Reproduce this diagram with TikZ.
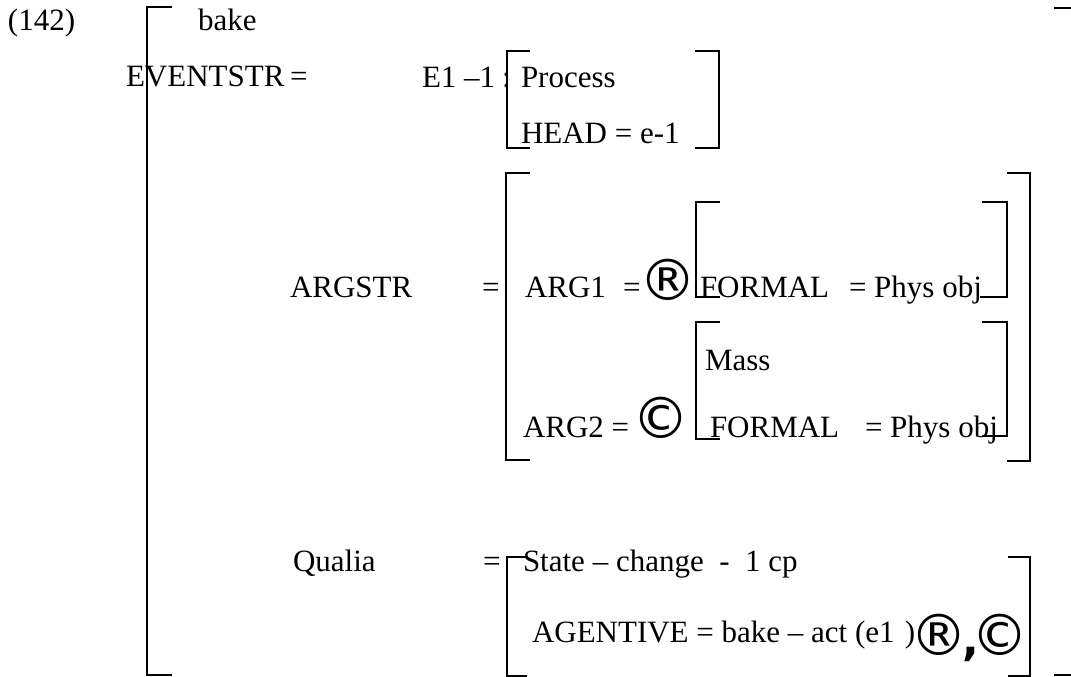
\documentclass[tikz,border=0pt]{standalone}
\usepackage{fontspec}
\setmainfont{Liberation Serif}
\newfontfamily\symfont{DejaVu Sans}
\newfontfamily\symfontb{DejaVu Sans Bold}
\begin{document}
\begin{tikzpicture}[x=1pt,y=-1pt,
  txt/.style={anchor=base west,inner sep=0pt,outer sep=0pt,font=\fontsize{31}{36}\selectfont},
  sym/.style={anchor=center,inner sep=0pt,font=\symfont\fontsize{57}{57}\selectfont},
  brk/.style={line width=2.3pt,line join=miter}]
\useasboundingbox (0,0) rectangle (1071,677);
% texts
\node[txt] (n142) at (8,31) {(142)};
\node[txt] (bake) at (198,31) {bake};
\node[txt] (evs) at (126,87) {EVENTSTR};
\node[txt] (evseq) at (290,87) {=};
\node[txt] (e11) at (422,88) {E1 –1};
\node[txt] (colon) at (502,88) {:};
\node[txt] (proc) at (521,88) {Process};
\node[txt] (head) at (521,143) {HEAD = e-1};
\node[txt] (argstr) at (290,297) {ARGSTR};
\node[txt] (argeq) at (482,297) {=};
\node[txt] (arg1) at (525,297) {ARG1};
\node[txt] (arg1eq) at (623,297) {=};
\node[sym] (r1) at (668,280) {®};
\node[txt] (f1) at (700,297) {FORMAL};
\node[txt] (f1v) at (849,297) {= Phys obj};
\node[txt] (mass) at (705,370) {Mass};
\node[txt] (arg2) at (523,437) {ARG2 =};
\node[sym] (c1) at (661,418) {©};
\node[txt] (f2) at (710,437) {FORMAL};
\node[txt] (f2v) at (865,437) {= Phys obj};
\node[txt] (qual) at (293,571) {Qualia};
\node[txt] (qualeq) at (483,571) {=};
\node[txt] (state) at (523,571) {State – change\ \ -\ \ 1 cp};
\node[txt] (agent) at (532,642) {AGENTIVE = bake – act (e1\,\,)};
\node[anchor=base west,inner sep=0pt,font=\symfont\fontsize{57}{57}\selectfont] (rc) at (910,655)
  {®\kern-4.5pt{\symfontb\fontsize{44}{44}\selectfont,}\kern-8pt©};
% outer bracket
\draw[brk] (172,7) -- (147,7) -- (147,675) -- (172,675);
\draw[brk] (1054,8) -- (1071,8);
\draw[brk] (1054,675) -- (1071,675);
% E1 bracket
\draw[brk] (530,51) -- (507,51) -- (507,148) -- (530,148);
\draw[brk] (695,51) -- (719,51) -- (719,148) -- (695,148);
% ARGSTR bracket
\draw[brk] (530,173) -- (506,173) -- (506,460) -- (530,460);
\draw[brk] (1007,173) -- (1030,173) -- (1030,461) -- (1007,461);
% inner bracket 1
\draw[brk] (720,202) -- (696,202) -- (696,297) -- (720,297);
\draw[brk] (982,202) -- (1007,202) -- (1007,297) -- (980,297);
% inner bracket 2
\draw[brk] (720,322) -- (696,322) -- (696,439) -- (720,439);
\draw[brk] (982,322) -- (1007,322) -- (1007,436) -- (982,436);
% Qualia bracket
\draw[brk] (527,557) -- (507,557) -- (507,676) -- (527,676);
\draw[brk] (1008,557) -- (1030,557) -- (1030,676) -- (1008,676);
\end{tikzpicture}
\end{document}
